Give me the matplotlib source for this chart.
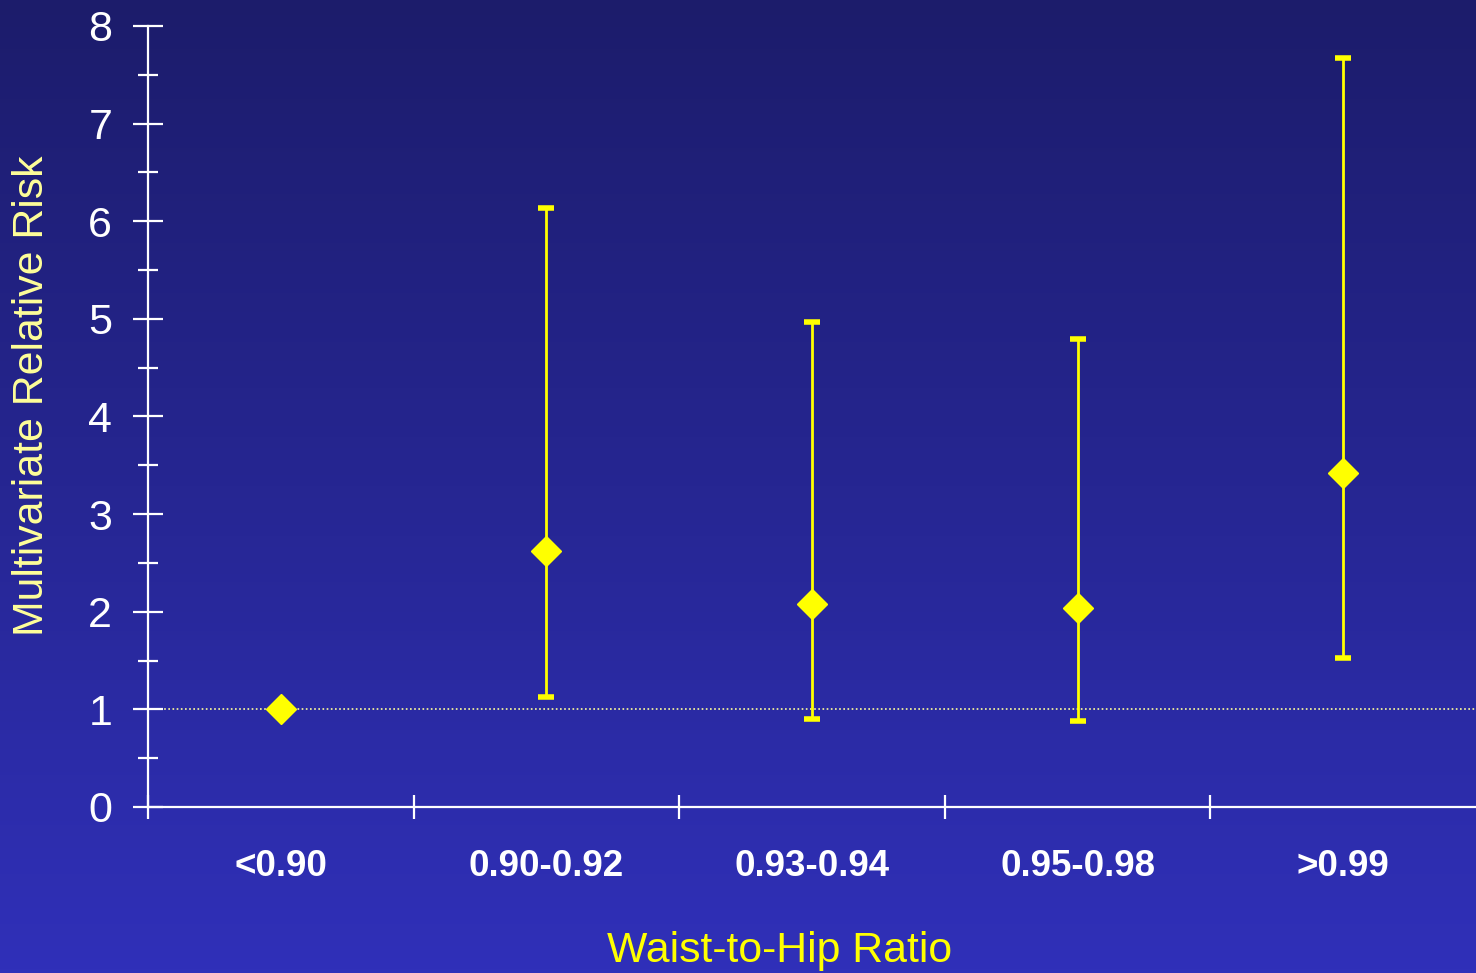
import numpy as np
import matplotlib
matplotlib.use('Agg')
import matplotlib.pyplot as plt
from matplotlib.colors import LinearSegmentedColormap

plt.rcParams['font.family'] = ['Liberation Sans', 'DejaVu Sans']

# data
groups = ['<0.90', '0.90-0.92', '0.93-0.94', '0.95-0.98', '>0.99']
rr = [1.0, 2.62, 2.08, 2.04, 3.42]
ci_low = [None, 1.13, 0.90, 0.88, 1.53]
ci_high = [None, 6.14, 4.97, 4.79, 7.67]

fig = plt.figure(figsize=(14.76, 9.73), dpi=100)

# gradient background (dark navy at top -> brighter blue at bottom)
bg = fig.add_axes([0, 0, 1, 1], zorder=0)
cmap = LinearSegmentedColormap.from_list('bg', ['#1c1c6b', '#3030b9'])
bg.imshow(np.linspace(0, 1, 256).reshape(-1, 1), aspect='auto', cmap=cmap,
          extent=[0, 1, 0, 1])
bg.axis('off')

ax = fig.add_axes([148 / 1476, 1 - 807 / 973, 1 - 148 / 1476, (807 - 26) / 973], zorder=1)
ax.patch.set_alpha(0)

x = np.arange(len(groups)) + 0.5

# reference line at RR = 1
ax.axhline(1, xmin=12 / 1328, xmax=1, color='#ffff99', lw=1.2, ls=(0, (1, 1.5)), zorder=1)

for xi, lo, hi in zip(x, ci_low, ci_high):
    if lo is None:
        continue
    ax.vlines(xi, lo, hi, color='#ffff00', lw=2, zorder=2)
    ax.hlines([lo, hi], xi - 0.03, xi + 0.03, color='#ffff00', lw=4, zorder=2)

ax.plot(x, rr, ls='none', marker='D', ms=15, color='#ffff00', zorder=3)

ax.set_xlim(0, 5)
ax.set_ylim(0, 8)

for s in ['top', 'right']:
    ax.spines[s].set_visible(False)
for s in ['left', 'bottom']:
    ax.spines[s].set_color('white')
    ax.spines[s].set_linewidth(1.6)

ax.set_yticks(range(0, 9))
ax.set_yticks(np.arange(0.5, 8, 1), minor=True)
ax.tick_params(axis='y', which='major', direction='inout', length=21.6, width=1.6,
               colors='white', labelsize=31, pad=15)
ax.tick_params(axis='y', which='minor', direction='inout', length=14.4, width=1.6,
               colors='white')

ax.set_xticks(range(0, 5))
ax.set_xticks(x, minor=True)
ax.set_xticklabels([])
ax.set_xticklabels(groups, minor=True, fontweight='bold', fontsize=26.5, color='white')
ax.tick_params(axis='x', which='major', direction='inout', length=17.3, width=1.6, colors='white')
ax.tick_params(axis='x', which='minor', length=0, pad=30)

fig.text(32 / 1476, 1 - 396 / 973, 'Multivariate Relative Risk', rotation=90,
         color='#ffff99', fontsize=30.8, ha='center', va='center')
fig.text(780 / 1476, 1 - 951 / 973, 'Waist-to-Hip Ratio', color='#ffff00',
         fontsize=30.8, ha='center', va='center')

fig.savefig('out.png', dpi=100)
